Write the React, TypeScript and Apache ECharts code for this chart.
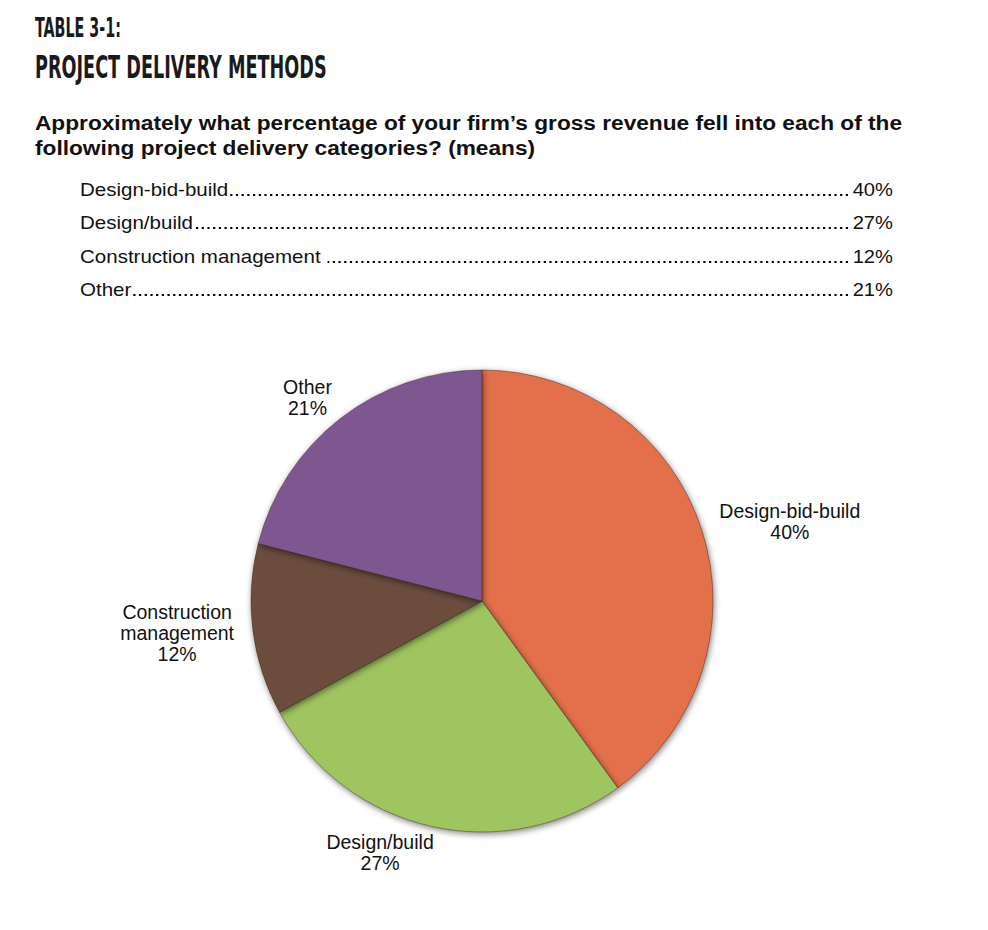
import React, { useEffect, useRef } from 'react';
import * as echarts from 'echarts';

const titleLine1 = 'TABLE 3-1:';
const titleLine2 = 'PROJECT DELIVERY METHODS';
const questionLines = [
  'Approximately what percentage of your firm’s gross revenue fell into each of the',
  'following project delivery categories? (means)',
];
const categories = ['Design-bid-build', 'Design/build', 'Construction management', 'Other'];
const values = [40, 27, 12, 21];
const colors = ['#E36F4B', '#9EC55F', '#6C4D3E', '#7E5790'];

const SANS = '"Liberation Sans", Arial, Helvetica, sans-serif';
const NARROW = '"Liberation Sans Narrow", "DejaVu Sans Condensed", "Liberation Sans", sans-serif';

export default function App() {
  const ref = useRef<HTMLDivElement>(null);
  useEffect(() => {
    if (!ref.current) return;
    const chart = echarts.init(ref.current, null, { renderer: 'svg' });

    const graphics: any[] = [];
    // title
    graphics.push({
      type: 'text', x: 35, y: 28, scaleX: 0.6, silent: true,
      style: { text: titleLine1, x: 0, y: 0, font: `bold 26.5px ${NARROW}`, fill: '#1a1a1a', verticalAlign: 'middle' },
    });
    graphics.push({
      type: 'text', x: 35, y: 66, scaleX: 0.6, silent: true,
      style: { text: titleLine2, x: 0, y: 0, font: `bold 32.7px ${NARROW}`, fill: '#1a1a1a', verticalAlign: 'middle' },
    });
    // question
    questionLines.forEach((q, i) => {
      graphics.push({
        type: 'text', x: 35, y: 123 + i * 25, scaleX: 1.08, silent: true,
        style: { text: q, x: 0, y: 0, font: `bold 21px ${SANS}`, fill: '#111', verticalAlign: 'middle' },
      });
    });
    // table rows
    const rowBase = (i: number) => Math.round(196 + 33.4 * i);
    categories.forEach((c, i) => {
      const base = rowBase(i);
      graphics.push({
        type: 'line', silent: true,
        shape: { x1: 82, y1: base - 1, x2: 851, y2: base - 1 },
        style: { stroke: '#000', lineWidth: 2.2, lineDash: [2.2, 3.5] },
      });
    });
    categories.forEach((c, i) => {
      const base = rowBase(i);
      const label = c === 'Construction management' ? c + ' ' : c;
      graphics.push({
        type: 'text', x: 80, y: base - 6, scaleX: 1.14, silent: true,
        style: {
          text: label, x: 0, y: 0, font: `18px ${SANS}`, fill: '#111', verticalAlign: 'middle',
          backgroundColor: '#fff', padding: [3, 1, 3, 0],
        },
      });
      graphics.push({
        type: 'text', x: 893, y: base - 6, scaleX: 1.12, silent: true,
        style: {
          text: values[i] + '%', x: 0, y: 0, font: `18px ${SANS}`, fill: '#111',
          align: 'right', verticalAlign: 'middle', backgroundColor: '#fff', padding: [3, 0, 3, 0],
        },
      });
    });

    chart.setOption({
      animation: false,
      backgroundColor: '#ffffff',
      color: colors,
      graphic: graphics,
      series: [
        {
          type: 'pie',
          center: [482, 601],
          radius: 231,
          startAngle: 90,
          clockwise: true,
          avoidLabelOverlap: false,
          silent: true,
          emphasis: { disabled: true },
          itemStyle: {
            borderColor: 'rgba(50,30,20,0.55)',
            borderWidth: 0.8,
            shadowBlur: 6,
            shadowColor: 'rgba(0,0,0,0.5)',
            shadowOffsetX: 1,
            shadowOffsetY: 2,
          },
          label: {
            show: true,
            position: 'outside',
            distanceToLabelLine: -8,
            formatter: (p: any) =>
              [...String(p.name).split(' '), p.value + '%'].map((l) => `{a|${l}}`).join('\n'),
            rich: {
              a: { fontSize: 19.5, fontFamily: SANS, color: '#111', align: 'center', lineHeight: 21 },
            },
          },
          labelLine: { show: false, length: 27, length2: 0 },
          data: categories.map((c, i) => ({ name: c, value: values[i] })),
        },
      ],
    });
    return () => chart.dispose();
  }, []);
  return <div ref={ref} style={{ position: 'absolute', left: 0, top: 0, width: 988, height: 930 }} />;
}
